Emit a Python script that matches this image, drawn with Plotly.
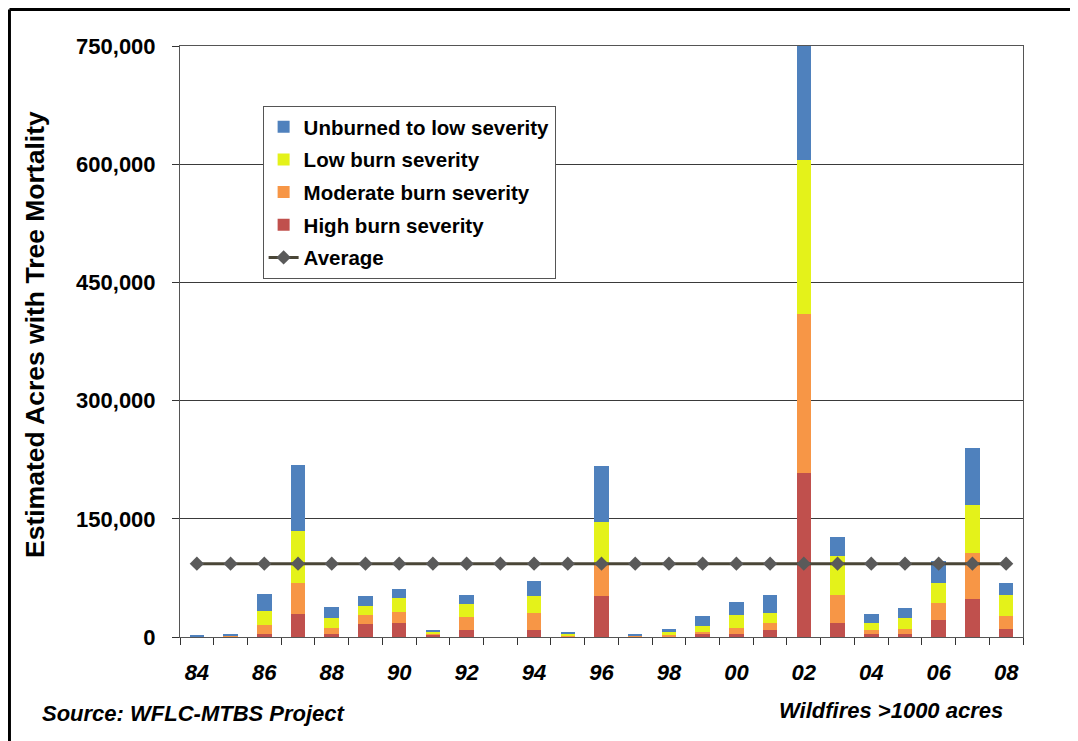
import plotly.graph_objects as go

years = ['84', '85', '86', '87', '88', '89', '90', '91', '92', '93', '94', '95', '96',
         '97', '98', '99', '00', '01', '02', '03', '04', '05', '06', '07', '08']
year_labels = ['84', '', '86', '', '88', '', '90', '', '92', '', '94', '', '96',
               '', '98', '', '00', '', '02', '', '04', '', '06', '', '08']

high = [500, 1000, 4000, 29000, 4000, 17000, 18000, 2000, 8500, 0, 8500, 1000, 51500,
        500, 1000, 3400, 4000, 8500, 208000, 18000, 4000, 4000, 21000, 48000, 10000]
moderate = [300, 700, 11600, 40000, 8000, 11000, 14000, 3000, 17000, 0, 22000, 1500, 39500,
            1000, 2000, 3300, 7000, 9500, 202000, 35500, 5000, 6000, 22000, 58000, 16700]
low = [300, 800, 17000, 66000, 12000, 11000, 17000, 1500, 16000, 0, 22000, 1500, 54500,
       500, 3000, 7300, 17000, 13000, 195000, 49500, 9000, 14500, 26000, 61000, 27000]
unburned = [400, 500, 22000, 83000, 13700, 13400, 12000, 2000, 11300, 0, 19000, 2300, 71500,
            2000, 4000, 13000, 17000, 22000, 145000, 24000, 11000, 12000, 27500, 72500, 15000]
average = [93000] * 25

y_ticks = [0, 150000, 300000, 450000, 600000, 750000]

FONT = "Liberation Sans, Arial, sans-serif"

fig = go.Figure()
series = [
    ("High burn severity", high, "#c0504d", 4),
    ("Moderate burn severity", moderate, "#f79646", 3),
    ("Low burn severity", low, "#e4f21a", 2),
    ("Unburned to low severity", unburned, "#4f81bd", 1),
]
for name, vals, color, rank in series:
    fig.add_trace(go.Bar(x=years, y=vals, name=name, marker=dict(color=color, line=dict(width=0)),
                         legendrank=rank, legendgroup=name))

fig.add_trace(go.Scatter(x=years, y=average, name="Average", mode="lines+markers",
                         line=dict(color="#4a4637", width=3),
                         marker=dict(symbol="diamond", size=11, color="#5a5a5a"),
                         legendrank=5, legendgroup="avg"))

fig.update_layout(
    width=1078, height=741,
    margin=dict(l=172, r=63, t=38, b=112),
    paper_bgcolor="white", plot_bgcolor="white",
    barmode="stack", bargap=0.57,
    font=dict(family=FONT, color="black"),
    showlegend=True,
    legend=dict(x=0.098, y=0.8985, xanchor="left", yanchor="top",
                bgcolor="white", bordercolor="#555555", borderwidth=1,
                font=dict(size=20.5, family=FONT, weight="bold", color="black"),
                traceorder="grouped", tracegroupgap=3),
    xaxis=dict(type="category", categoryorder="array", categoryarray=years,
               range=[-0.5, 24.5], tickangle=0,
               tickvals=years, ticktext=year_labels, tickson="boundaries",
               ticks="outside", ticklen=7, tickcolor="#333333", tickwidth=1,
               showline=True, linecolor="#555555", linewidth=1, mirror=True,
               showgrid=False, ticklabelstandoff=16,
               tickfont=dict(size=22, family=FONT, style="italic", weight="bold", color="black")),
    yaxis=dict(range=[0, 750000], tickvals=y_ticks, tickformat=",",
               ticks="outside", ticklen=7, tickcolor="#333333",
               showline=True, linecolor="#555555", linewidth=1, mirror=True,
               showgrid=True, gridcolor="#3a3a3a", gridwidth=1, zeroline=False,
               ticklabelstandoff=12,
               tickfont=dict(size=22, family=FONT, weight="bold", color="black")),
    annotations=[
        dict(text="Estimated Acres with Tree Mortality", xref="paper", yref="paper",
             x=-0.172, y=0.511, xanchor="center", yanchor="middle", textangle=-90,
             showarrow=False, font=dict(size=26.5, family=FONT, weight="bold", color="black")),
        dict(text="Source: WFLC-MTBS Project", xref="paper", yref="paper",
             x=-0.166, y=-0.1286, xanchor="left", yanchor="middle", showarrow=False,
             font=dict(size=22, family=FONT, style="italic", weight="bold", color="black")),
        dict(text="Wildfires >1000 acres", xref="paper", yref="paper",
             x=0.9786, y=-0.125, xanchor="right", yanchor="middle", showarrow=False,
             font=dict(size=22, family=FONT, style="italic", weight="bold", color="black")),
    ],
    shapes=[
        dict(type="line", xref="paper", yref="paper", x0=-0.2023, x1=1.08, y0=1.0618, y1=1.0618,
             line=dict(color="black", width=3)),
        dict(type="line", xref="paper", yref="paper", x0=-0.2023, x1=-0.2023, y0=1.0618, y1=-0.19,
             line=dict(color="black", width=3)),
    ],
)

fig.write_html("out.html")
